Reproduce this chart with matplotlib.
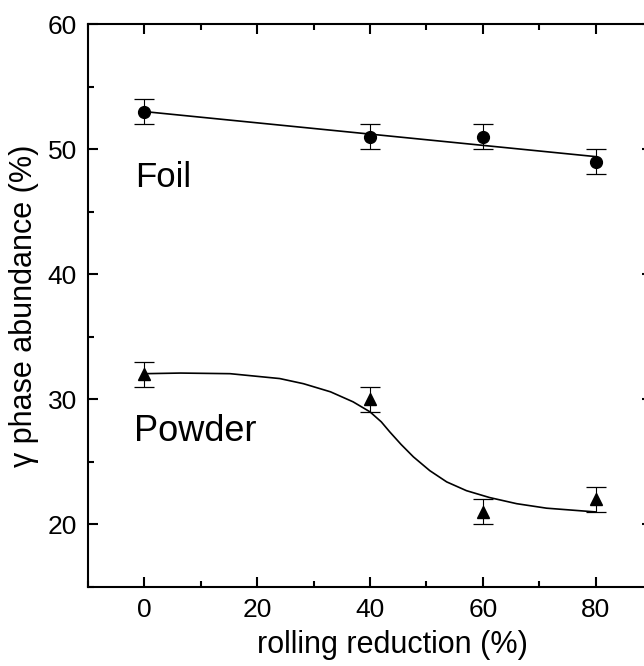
import matplotlib
matplotlib.use("Agg")
import matplotlib.pyplot as plt
from matplotlib.ticker import MultipleLocator

plt.rcParams['font.family'] = ['Liberation Sans', 'DejaVu Sans']

# data
reduction = [0, 40, 60, 80]
foil = [53, 51, 51, 49]
foil_err = [1, 1, 1, 1]
powder = [32, 30, 21, 22]
powder_err = [1, 1, 1, 1]

# fitted lines
foil_fit_x = [0, 80]
foil_fit_y = [53.0, 49.4]
powder_fit_x = [0, 6.4, 15.2, 24, 28.2, 33, 37, 40, 42, 43.5, 45.5, 47.7, 50.6, 53.6, 57.1, 61.2, 66, 71.3, 80]
powder_fit_y = [32.05, 32.1, 32.05, 31.66, 31.25, 30.6, 29.8, 29.0, 28.2, 27.4, 26.4, 25.4, 24.3, 23.4, 22.7, 22.15, 21.66, 21.3, 21.0]

fig = plt.figure(figsize=(6.44, 6.66), dpi=100)
W, H = 644, 666
left, right, top, bottom = 88, 652, 24, 587
ax = fig.add_axes([left / W, 1 - bottom / H, (right - left) / W, (bottom - top) / H])

ax.plot(foil_fit_x, foil_fit_y, color='black', lw=1.2)
ax.plot(powder_fit_x, powder_fit_y, color='black', lw=1.2)

ax.errorbar(reduction, foil, yerr=foil_err, fmt='o', color='black', ms=8.5,
            ecolor='black', elinewidth=0.8, capsize=7, capthick=0.9)
ax.errorbar(reduction, powder, yerr=powder_err, fmt='^', color='black', ms=9,
            ecolor='black', elinewidth=0.8, capsize=7, capthick=0.9)

ax.text(-1.6, 47.0, 'Foil', fontsize=25, ha='left', va='baseline')
ax.text(-1.8, 26.7, 'Powder', fontsize=26, ha='left', va='baseline')

ax.set_xlim(-10, 90)
ax.set_ylim(15, 60)
ax.xaxis.set_major_locator(MultipleLocator(20))
ax.xaxis.set_minor_locator(MultipleLocator(10))
ax.yaxis.set_major_locator(MultipleLocator(10))
ax.yaxis.set_minor_locator(MultipleLocator(5))
ax.tick_params(which='both', direction='in', top=True, right=True, width=1.5,
               labelsize=19, pad=8)
ax.tick_params(which='major', length=7.5)
ax.tick_params(which='minor', length=4)
for s in ax.spines.values():
    s.set_linewidth(1.5)

ax.set_xlabel('rolling reduction (%)', fontsize=22, labelpad=6)
ax.xaxis.label.set_x(0.539)
ax.set_ylabel('γ phase abundance (%)', fontsize=22, labelpad=6)

fig.savefig('out.png', dpi=100)
